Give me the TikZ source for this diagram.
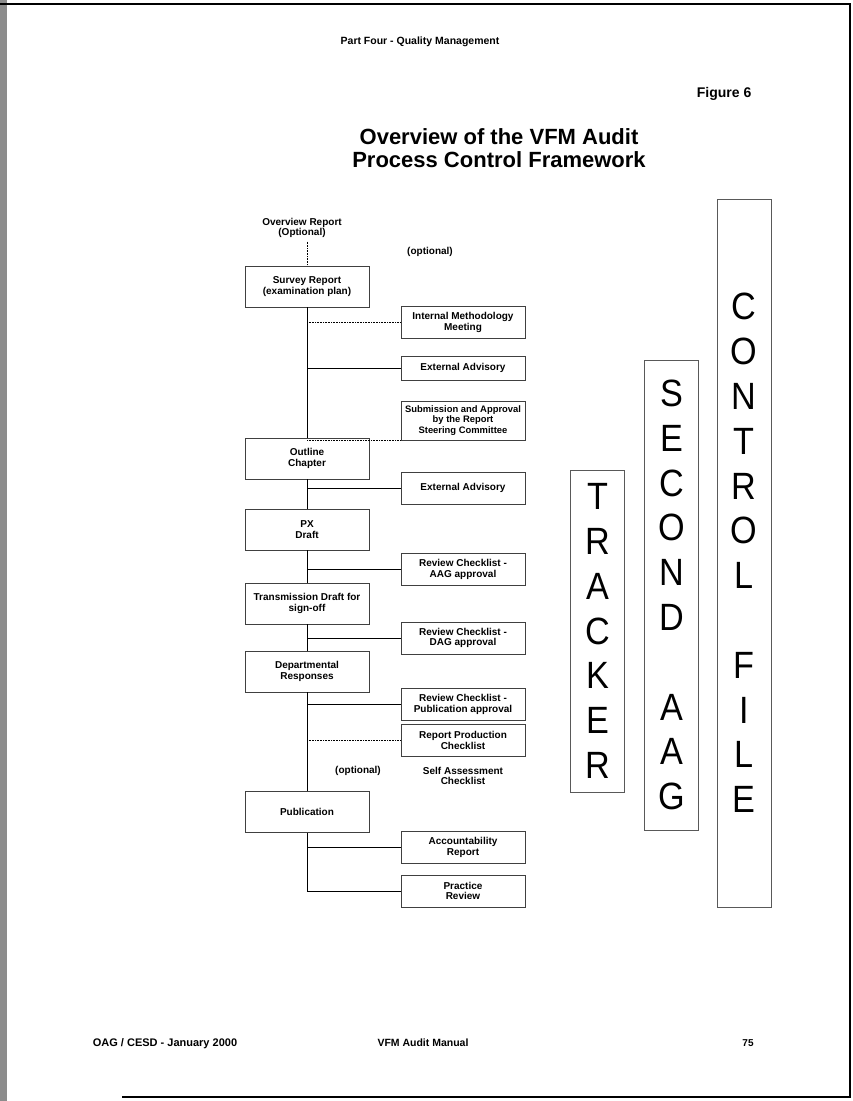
\documentclass[tikz,border=0pt]{standalone}
\usepackage{fontspec}
\setmainfont{Liberation Sans}
\newfontfamily\narrowfam[FakeStretch=0.9]{Liberation Sans}
\usetikzlibrary{positioning}
\newcommand{\boxfont}{\fontsize{10}{10.8}\selectfont\bfseries}
\newcommand{\colfont}{\narrowfam\fontsize{38}{44.8}\selectfont}

\begin{document}
\begin{tikzpicture}[x=1pt, y=-1pt, line width=0.6pt,
  stage/.style={draw=black!75, minimum width=124, minimum height=41, inner sep=1, align=center, font=\boxfont},
  check/.style={draw=black!75, minimum width=124, minimum height=32, inner sep=1, align=center, font=\boxfont},
  column/.style={draw=black!65, minimum width=54, inner sep=0, align=center, font=\colfont},
  note/.style={align=center, font=\boxfont},
  foot/.style={anchor=base, font=\fontsize{10.5}{12}\selectfont\bfseries},
  optline/.style={densely dotted}]
  \useasboundingbox (0,0) rectangle (853,1101);
  \fill[black!45] (0,0) rectangle (7,1101);
  \draw[line width=2] (0,4) -- (850,4) -- (850,1097) -- (122,1097);

  \node[font=\fontsize{10.5}{12}\selectfont\bfseries] (part) at (420,42) {Part Four - Quality Management};
  \node[font=\fontsize{14}{16}\selectfont\bfseries, anchor=east] (fig) at (755,94) {Figure 6};
  \node[font=\fontsize{22}{23}\selectfont\bfseries, align=center] (title) at (499,148.5) {Overview of the VFM Audit\\Process Control Framework};

  \node[note] (overview) at (302,228) {Overview Report\\(Optional)};
  \node[note] (opt1) at (430,252) {(optional)};
  \node[stage] (survey) at (307,286.5) {Survey Report\\(examination plan)};
  \node[stage] (outline) at (307,458.5) {Outline\\Chapter};
  \node[stage] (px) at (307,529.5) {PX\\Draft};
  \node[stage] (transm) at (307,603.5) {Transmission Draft for\\sign-off};
  \node[stage] (dept) at (307,671.5) {Departmental\\Responses};
  \node[stage] (publ) at (307,812) {Publication};

  \node[check] (intmeth) at (463,322.5) {Internal Methodology\\Meeting};
  \node[check, minimum height=24] (extadv) at (463,368) {External Advisory};
  \node[check, minimum height=39, font=\fontsize{9.4}{10.6}\selectfont\bfseries] (submit) at (463,420.5) {Submission and Approval\\by the Report\\Steering Committee};
  \node[check] (extadv2) at (463,488) {External Advisory};
  \node[check] (revaag) at (463,569.5) {Review Checklist -\\AAG approval};
  \node[check] (revdag) at (463,638) {Review Checklist -\\DAG approval};
  \node[check] (revpub) at (463,704.5) {Review Checklist -\\Publication approval};
  \node[check] (repprod) at (463,740.5) {Report Production\\Checklist};
  \node[note] (opt2) at (358,771) {(optional)};
  \node[note] (selfass) at (463,776) {Self Assessment\\Checklist};
  \node[check] (acct) at (463,847.5) {Accountability\\Report};
  \node[check] (practice) at (463,891) {Practice\\Review};

  \draw[optline] (survey.north |- overview.south) -- (survey.north);
  \draw (survey) -- (outline) -- (px) -- (transm) -- (dept) -- (publ);
  \draw (publ.south) |- (practice.west);
  \foreach \c in {extadv, extadv2, revaag, revdag, revpub, acct}
    \draw (survey.south |- \c.west) -- (\c.west);
  \foreach \c in {intmeth, repprod}
    \draw[optline] (survey.south |- \c.west) -- (\c.west);
  \draw[optline] (survey.south |- submit.south west) -- (submit.south west);

  \node[column, minimum height=322] (tracker) at (597.5,631) {T\\R\\A\\C\\K\\E\\R};
  \node[column, minimum height=470] (second) at (671.5,595) {S\\E\\C\\O\\N\\D\\[44.8pt]A\\A\\G};
  \node[column, minimum height=708] (ctrlfile) at (744,553) {C\\O\\N\\T\\R\\O\\L\\[44.8pt]F\\I\\L\\E};

  \node[foot, font=\fontsize{11}{13}\selectfont\bfseries] (oag) at (165,1046) {OAG / CESD - January 2000};
  \node[foot] (manual) at (423,1046) {VFM Audit Manual};
  \node[foot, font=\fontsize{10}{12}\selectfont\bfseries] (page) at (748,1046) {75};
\end{tikzpicture}
\end{document}
